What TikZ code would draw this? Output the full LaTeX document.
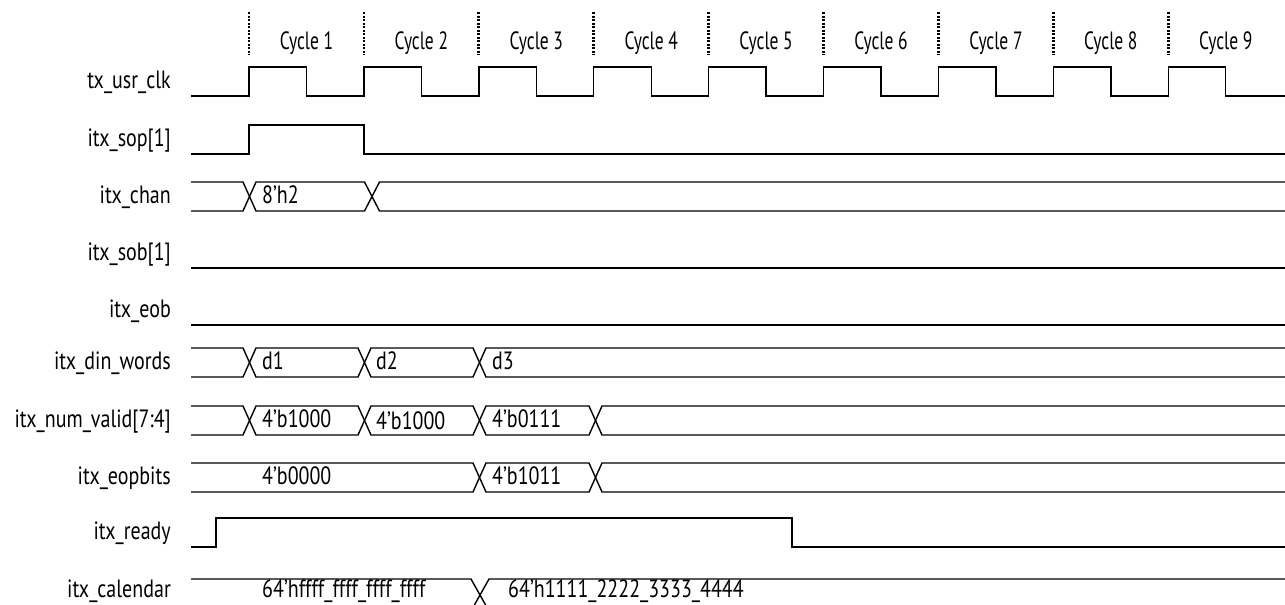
\documentclass[tikz,border=0pt]{standalone}
\usepackage{fontspec}
\setmainfont{PT Sans}[FakeStretch=0.8, Ligatures=CommonOff]
\newfontfamily\cycfont{PT Sans}[FakeStretch=0.7]
\begin{document}
\begin{tikzpicture}[x=1pt,y=-1pt,
  wave/.style={line width=1.4pt, line join=miter},
  txt/.style={inner sep=0pt, font=\fontsize{25}{28}\selectfont},
  lbl/.style={txt, anchor=base east},
  val/.style={txt, anchor=base west},
  cyc/.style={inner sep=0pt, anchor=base, font=\cycfont\fontsize{25}{28}\selectfont},
  tick/.style={line width=2.7pt, dash pattern=on 2.2pt off 1.3pt}]
\useasboundingbox (0,0) rectangle (1285,605);
% cycle markers
\foreach \k [count=\n] in {0,...,8} {
  \draw[tick] ({249+114.9*\k},12) -- ({249+114.9*\k},55);
  \node[cyc] (cyc\n) at ({306.5+114.9*\k},49) {Cycle \n};
}
% labels
\node[lbl] (lclk) at (171,88.5) {tx\_usr\_clk};
\node[lbl] (lsop) at (171,146.5) {itx\_sop[1]};
\node[lbl] (lchan) at (171,203.5) {itx\_chan};
\node[lbl] (lsob) at (171,260.5) {itx\_sob[1]};
\node[lbl] (leob) at (171,317.5) {itx\_eob};
\node[lbl] (ldin) at (171,369.5) {itx\_din\_words};
\node[lbl] (lnum) at (171,427.5) {itx\_num\_valid[7:4]};
\node[lbl] (leop) at (171,484.5) {itx\_eopbits};
\node[lbl] (lrdy) at (171,539.5) {itx\_ready};
\node[lbl] (lcal) at (171,597) {itx\_calendar};
% clock
\draw[wave] (191,96) foreach \k in {0,...,8} { -- ({249+114.9*\k},96) -- ({249+114.9*\k},67) -- ({306.5+114.9*\k},67) -- ({306.5+114.9*\k},96) } -- (1285,96);
% sop
\draw[wave] (191,154) -- (249,154) -- (249,125) -- (364,125) -- (364,154) -- (1285,154);
% chan
\draw[wave] (191,182) -- (243,182) -- (256,211) -- (364.5,211) -- (379.5,182) -- (1285,182);
\draw[wave] (191,211) -- (243,211) -- (256,182) -- (364.5,182) -- (379.5,211) -- (1285,211);
\node[val] (vchan) at (262,203.5) {8’h2};
% sob, eob
\draw[wave] (191,268) -- (1285,268);
\draw[wave] (191,325) -- (1285,325);
% din
\draw[wave] (191,348) -- (243,348) -- (256,377) -- (358,377) -- (371,348) -- (473,348) -- (486,377) -- (1285,377);
\draw[wave] (191,377) -- (243,377) -- (256,348) -- (358,348) -- (371,377) -- (473,377) -- (486,348) -- (1285,348);
\node[val] (vd1) at (262,369.5) {d1};
\node[val] (vd2) at (376,369.5) {d2};
\node[val] (vd3) at (492,369.5) {d3};
% num valid
\draw[wave] (191,406) -- (243,406) -- (256,435) -- (358,435) -- (371,406) -- (473,406) -- (486,435) -- (589,435) -- (602,406) -- (1285,406);
\draw[wave] (191,435) -- (243,435) -- (256,406) -- (358,406) -- (371,435) -- (473,435) -- (486,406) -- (589,406) -- (602,435) -- (1285,435);
\node[val] (vn1) at (262,427.5) {4’b1000};
\node[val] (vn2) at (376,429.5) {4’b1000};
\node[val] (vn3) at (492,427.5) {4’b0111};
% eopbits
\draw[wave] (191,463) -- (473,463) -- (486,492) -- (589,492) -- (602,463) -- (1285,463);
\draw[wave] (191,492) -- (473,492) -- (486,463) -- (589,463) -- (602,492) -- (1285,492);
\node[val] (ve1) at (262,484.5) {4’b0000};
\node[val] (ve2) at (492,484.5) {4’b1011};
% ready
\draw[wave] (191,547) -- (216,547) -- (216,518) -- (792,518) -- (792,547) -- (1285,547);
% calendar
\draw[wave] (191,579) -- (471,579) -- (489,611) -- (1285,611);
\draw[wave] (191,611) -- (471,611) -- (489,579) -- (1285,579);
\node[val] (vc1) at (262,597) {64’hffff\_ffff\_ffff\_ffff};
\node[val] (vc2) at (508,597) {64’h1111\_2222\_3333\_4444};
\end{tikzpicture}
\end{document}
